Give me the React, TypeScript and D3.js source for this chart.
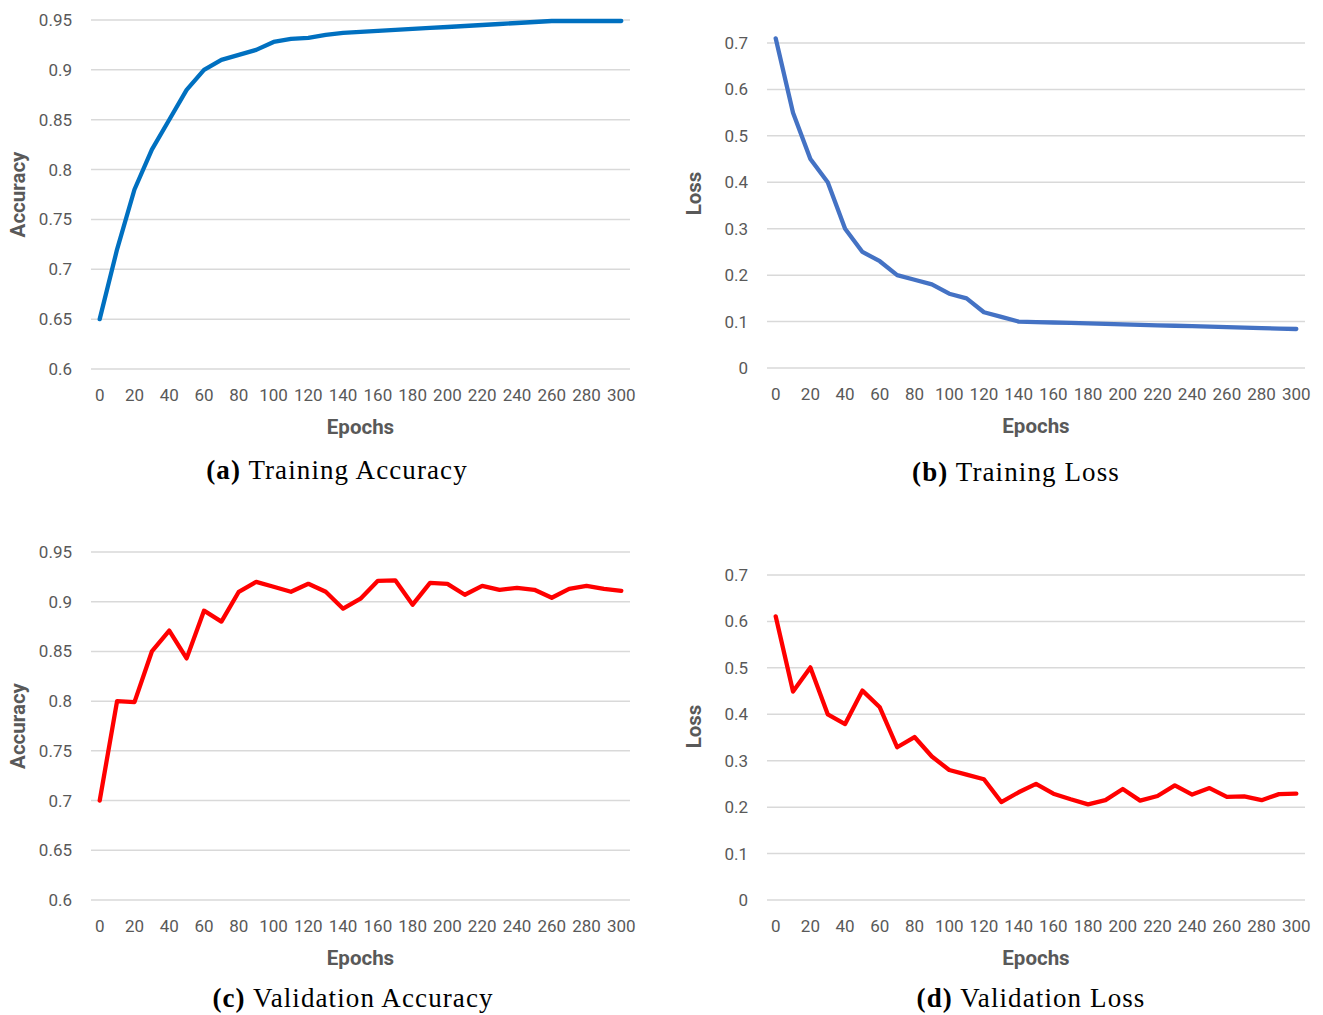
import React from "react";
import * as d3 from "d3";

// epochs shown on the category axis (one point every 10 epochs)
const epochs = [0, 10, 20, 30, 40, 50, 60, 70, 80, 90, 100, 110, 120, 130, 140, 150,
  160, 170, 180, 190, 200, 210, 220, 230, 240, 250, 260, 270, 280, 290, 300];
const epochTickLabels = [0, 20, 40, 60, 80, 100, 120, 140, 160, 180, 200, 220, 240, 260, 280, 300];

const trainAcc = [0.65, 0.72, 0.78, 0.82, 0.85, 0.88, 0.9, 0.91, 0.915, 0.92, 0.928, 0.931,
  0.932, 0.935, 0.937, 0.938, 0.939, 0.94, 0.941, 0.942, 0.943, 0.944, 0.945, 0.946, 0.947,
  0.948, 0.949, 0.949, 0.949, 0.949, 0.949];
const trainLoss = [0.71, 0.55, 0.45, 0.4, 0.3, 0.25, 0.23, 0.2, 0.19, 0.18, 0.16, 0.15, 0.12,
  0.11, 0.1, 0.099, 0.098, 0.097, 0.096, 0.095, 0.094, 0.093, 0.092, 0.091, 0.09, 0.089,
  0.088, 0.087, 0.086, 0.085, 0.084];
const valAcc = [0.7, 0.8, 0.799, 0.85, 0.871, 0.843, 0.891, 0.88, 0.91, 0.92, 0.915, 0.91,
  0.918, 0.91, 0.893, 0.903, 0.921, 0.9215, 0.897, 0.919, 0.918, 0.907, 0.916, 0.912, 0.914,
  0.912, 0.904, 0.913, 0.916, 0.913, 0.911];
const valLoss = [0.611, 0.449, 0.501, 0.4, 0.379, 0.451, 0.415, 0.329, 0.351, 0.309, 0.28,
  0.27, 0.26, 0.211, 0.232, 0.25, 0.229, 0.217, 0.206, 0.215, 0.239, 0.214, 0.224, 0.247,
  0.227, 0.241, 0.222, 0.223, 0.215, 0.228, 0.229];

const accTicks = [0.6, 0.65, 0.7, 0.75, 0.8, 0.85, 0.9, 0.95];
const lossTicks = [0, 0.1, 0.2, 0.3, 0.4, 0.5, 0.6, 0.7];

const gridColor = "#d9d9d9";
const textColor = "#595959";
const sansFont = "Roboto, 'Open Sans', sans-serif";
const serifFont = "'Liberation Serif', 'DejaVu Serif', serif";

const Panel = ({ x0, x1, yTop, yBottom, values, ticks, color, yLabel, yLabelShift,
  letter, caption, captionX, captionGap }) => {
  const xScale = d3.scalePoint().domain(epochs).range([x0, x1]).padding(0.5);
  const yScale = d3.scaleLinear().domain([ticks[0], ticks[ticks.length - 1]]).range([yBottom, yTop]);
  const line = d3.line().x((d, i) => xScale(epochs[i])).y((d) => yScale(d));
  const fmt = (v) => String(+v.toFixed(2));

  return (
    <g>
      {ticks.map((t) => (
        <g key={t}>
          <line x1={x0} x2={x1} y1={yScale(t)} y2={yScale(t)} stroke={gridColor} strokeWidth={1.5} />
          <text x={x0 - 19} y={yScale(t)} dy="0.35em" textAnchor="end"
            fontSize={17} fill={textColor} fontFamily={sansFont}>{fmt(t)}</text>
        </g>
      ))}
      {epochTickLabels.map((e) => (
        <text key={e} x={xScale(e)} y={yBottom + 32} textAnchor="middle"
          fontSize={17} fill={textColor} fontFamily={sansFont}>{e}</text>
      ))}
      <path d={line(values)} fill="none" stroke={color} strokeWidth={4.3}
        strokeLinejoin="round" strokeLinecap="round" />
      <text x={(x0 + x1) / 2} y={yBottom + 65} textAnchor="middle" fontSize={20.5}
        fontWeight="bold" fill={textColor} fontFamily={sansFont}>Epochs</text>
      <text transform={`translate(${x0 - 73}, ${(yTop + yBottom) / 2 + yLabelShift}) rotate(-90)`}
        dy="0.35em" textAnchor="middle" fontSize={20.5} fontWeight="bold" fill={textColor}
        fontFamily={sansFont}>{yLabel}</text>
      <text x={captionX} y={yBottom + captionGap} textAnchor="middle" fontSize={27}
        letterSpacing={1.1} fill="#000" fontFamily={serifFont}>
        <tspan fontWeight="bold">({letter})</tspan> {caption}
      </text>
    </g>
  );
};

export default function App() {
  return (
    <svg width={1323} height={1015} style={{ position: "absolute", left: 0, top: 0, background: "#fff" }}>
      <Panel x0={91} x1={630} yTop={20} yBottom={369} values={trainAcc} ticks={accTicks}
        color="#0070C0" yLabel="Accuracy" yLabelShift={0} letter="a" caption="Training Accuracy"
        captionX={337} captionGap={110} />
      <Panel x0={767} x1={1305} yTop={43} yBottom={368} values={trainLoss} ticks={lossTicks}
        color="#4472C4" yLabel="Loss" yLabelShift={-12} letter="b" caption="Training Loss"
        captionX={1016} captionGap={113} />
      <Panel x0={91} x1={630} yTop={552} yBottom={900} values={valAcc} ticks={accTicks}
        color="#FF0000" yLabel="Accuracy" yLabelShift={0} letter="c" caption="Validation Accuracy"
        captionX={353} captionGap={107} />
      <Panel x0={767} x1={1305} yTop={575} yBottom={900} values={valLoss} ticks={lossTicks}
        color="#FF0000" yLabel="Loss" yLabelShift={-11} letter="d" caption="Validation Loss"
        captionX={1031} captionGap={107} />
    </svg>
  );
}
